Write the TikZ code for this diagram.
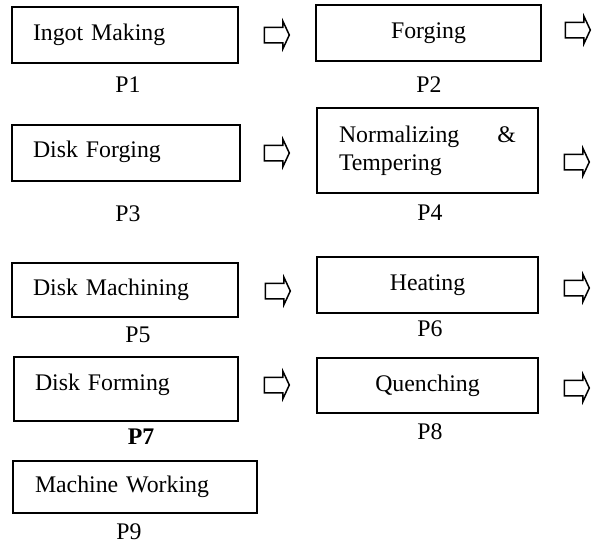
\documentclass[tikz,border=0pt]{standalone}
\usepackage{fontspec}
\setmainfont{Liberation Serif}
\usetikzlibrary{shapes.arrows}

\begin{document}
\begin{tikzpicture}[x=1pt, y=-1pt,
    every node/.style={font=\fontsize{23.8}{28}\selectfont},
    stage/.style={draw, line width=1.4pt, minimum height=56pt, inner xsep=21pt, inner ysep=0pt},
    flow/.style={draw, line width=1.5pt, shape=single arrow, minimum height=25pt, text height=14pt, text depth=0pt,
        single arrow head extend=6pt, single arrow tip angle=130, inner sep=0pt}]
        \useasboundingbox (0,0) rectangle (598,544);
        % Stages
        \node[stage, text width=184pt, align=left] (ingot) at (125,35) {Ingot Making};
        \node[stage, text width=183pt, align=center] (forging) at (428.5,33) {Forging};
        \node[stage, text width=186pt, align=left, text depth=8pt] (diskforge) at (126,153) {Disk Forging};
        \node[stage, text width=177pt, inner xsep=22pt, minimum height=85pt, align=left] (normtemp) at (427.5,150.5)
            {Normalizing \hfill \&\\Tempering};
        \node[stage, text width=184pt, align=left, minimum height=54pt] (diskmach) at (125,290) {Disk Machining};
        \node[stage, text width=179pt, align=center] (heating) at (427.5,285) {Heating};
        \node[stage, text width=182pt, align=left, minimum height=64pt, text depth=14pt] (diskform) at (126,389) {Disk Forming};
        \node[stage, text width=179pt, align=center, minimum height=55pt] (quench) at (427.5,385.5) {Quenching};
        \node[stage, text width=200pt, inner xsep=22pt, align=left, minimum height=52pt] (machwork) at (135,487) {Machine Working};
        % Labels
        \node (p1) at (128,85) {P1};
        \node (p2) at (429,85) {P2};
        \node (p3) at (128,214) {P3};
        \node (p4) at (430,213) {P4};
        \node (p5) at (138,335) {P5};
        \node (p6) at (430,329) {P6};
        \node (p7) at (141,437) {\textbf{P7}};
        \node (p8) at (430,432) {P8};
        \node (p9) at (129,532) {P9};
        % Arrows
        \node[flow] (a1) at (275,35) {};
        \node[flow] (a2) at (576,30) {};
        \node[flow] (a3) at (275,153) {};
        \node[flow] (a4) at (575,162) {};
        \node[flow] (a5) at (276,291) {};
        \node[flow] (a6) at (575,288) {};
        \node[flow] (a7) at (275,385) {};
        \node[flow] (a8) at (575,388) {};
\end{tikzpicture}
\end{document}
